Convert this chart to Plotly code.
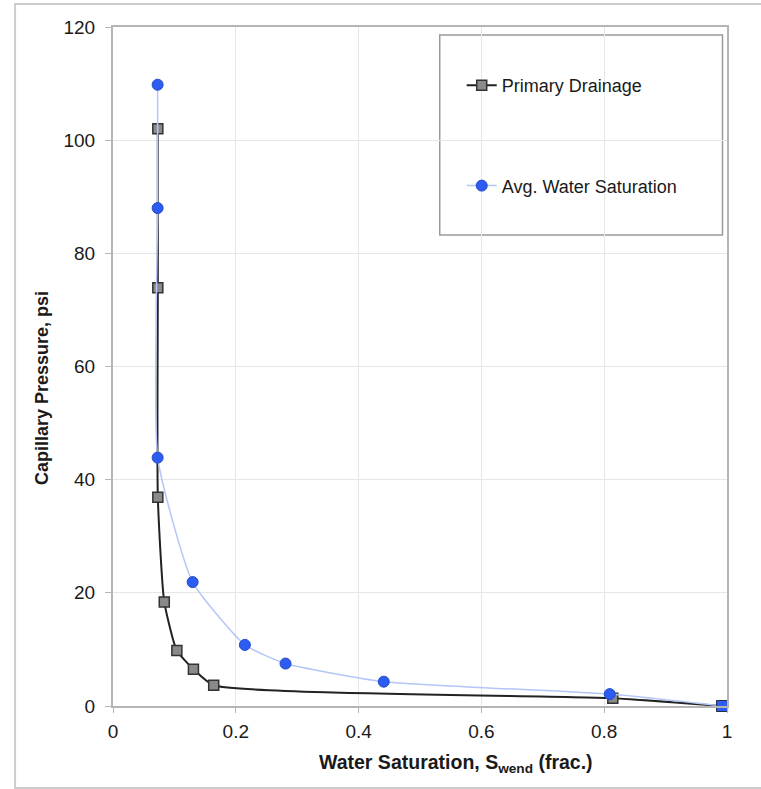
import plotly.graph_objects as go

# Primary Drainage
pd_sw = [0.073, 0.073, 0.073, 0.0835, 0.104, 0.131, 0.164, 0.814, 0.992]
pd_pc = [102.0, 73.9, 36.9, 18.4, 9.8, 6.5, 3.66, 1.36, 0.0]

# Avg. Water Saturation
avg_sw = [0.0727, 0.0727, 0.0727, 0.1297, 0.2148, 0.281, 0.441, 0.809, 0.992]
avg_pc = [109.8, 88.0, 43.9, 21.9, 10.8, 7.5, 4.3, 2.1, 0.0]

x_ticks = [0, 0.2, 0.4, 0.6, 0.8, 1]
x_tick_text = ["0", "0.2", "0.4", "0.6", "0.8", "1"]
y_ticks = [0, 20, 40, 60, 80, 100, 120]

FONT = "Liberation Sans, Arial, sans-serif"

fig = go.Figure()
fig.add_trace(go.Scatter(
    x=pd_sw, y=pd_pc, mode="lines+markers", name="Primary Drainage",
    legendgroup="a", cliponaxis=False,
    line=dict(color="#222222", width=2, shape="spline", smoothing=0.5),
    marker=dict(symbol="square", size=10, color="#8a8a8a",
                line=dict(color="#333333", width=1.5)),
))
n_avg = len(avg_sw)
avg_symbols = ["circle"] * (n_avg - 1) + ["square"]
avg_edge = ["#2448c8"] * (n_avg - 1) + ["#2a2f48"]
fig.add_trace(go.Scatter(
    x=avg_sw, y=avg_pc, mode="lines+markers", name="Avg. Water Saturation",
    legendgroup="b", cliponaxis=False,
    line=dict(color="#b4c6f7", width=1.5, shape="spline", smoothing=0.5),
    marker=dict(symbol=avg_symbols, size=11, color="#2d5cf2",
                line=dict(color=avg_edge, width=1)),
))

W, H = 761, 789
L, R, T, B = 113, 727.5, 27, 706
pw, ph = R - L, B - T

def px(x):
    return (x - L) / pw

def py(y):
    return (B - y) / ph

shapes = [
    # legend box
    dict(type="rect", xref="paper", yref="paper",
         x0=px(440), x1=px(723), y0=py(235), y1=py(35),
         line=dict(color="#9a9a9a", width=1.5), fillcolor="white", layer="between"),
    # outer frame
    dict(type="rect", xref="paper", yref="paper",
         x0=px(15), x1=px(800), y0=py(788), y1=py(4),
         line=dict(color="#cccccc", width=2), fillcolor="rgba(0,0,0,0)", layer="below"),
]

fig.update_layout(
    width=W, height=H,
    margin=dict(l=L, r=W - R, t=T, b=H - B),
    paper_bgcolor="white", plot_bgcolor="white",
    font=dict(family=FONT, size=19, color="#1a1a1a"),
    showlegend=True,
    legend=dict(x=px(462), y=py(67), xanchor="left", yanchor="top",
                bgcolor="rgba(0,0,0,0)", borderwidth=0,
                tracegroupgap=74, font=dict(family=FONT, size=18, color="#1a1a1a")),
    shapes=shapes,
    annotations=[
        dict(text="<b>Water Saturation, S<sub>wend</sub> (frac.)</b>",
             x=px(456), y=py(763), xref="paper", yref="paper",
             showarrow=False, xanchor="center", yanchor="middle",
             font=dict(family=FONT, size=19.5, color="#1a1a1a")),
        dict(text="<b>Capillary Pressure, psi</b>",
             x=px(42), y=py(388), xref="paper", yref="paper",
             showarrow=False, xanchor="center", yanchor="middle", textangle=-90,
             font=dict(family=FONT, size=18, color="#1a1a1a")),
    ],
)
fig.update_xaxes(
    range=[0, 1], tickvals=x_ticks, ticktext=x_tick_text,
    showgrid=True, gridcolor="#e6e6e6", gridwidth=1,
    showline=True, linecolor="#b5b5b5", linewidth=2, mirror=True,
    ticks="outside", ticklen=5, tickcolor="#b5b5b5",
    zeroline=False, ticklabelstandoff=2,
)
fig.update_yaxes(
    range=[0, 120], tickvals=y_ticks,
    showgrid=True, gridcolor="#e6e6e6", gridwidth=1,
    showline=True, linecolor="#b5b5b5", linewidth=2, mirror=True,
    ticks="outside", ticklen=6, tickcolor="#b5b5b5",
    zeroline=False, ticklabelstandoff=6,
)

fig.write_html("out.html")
